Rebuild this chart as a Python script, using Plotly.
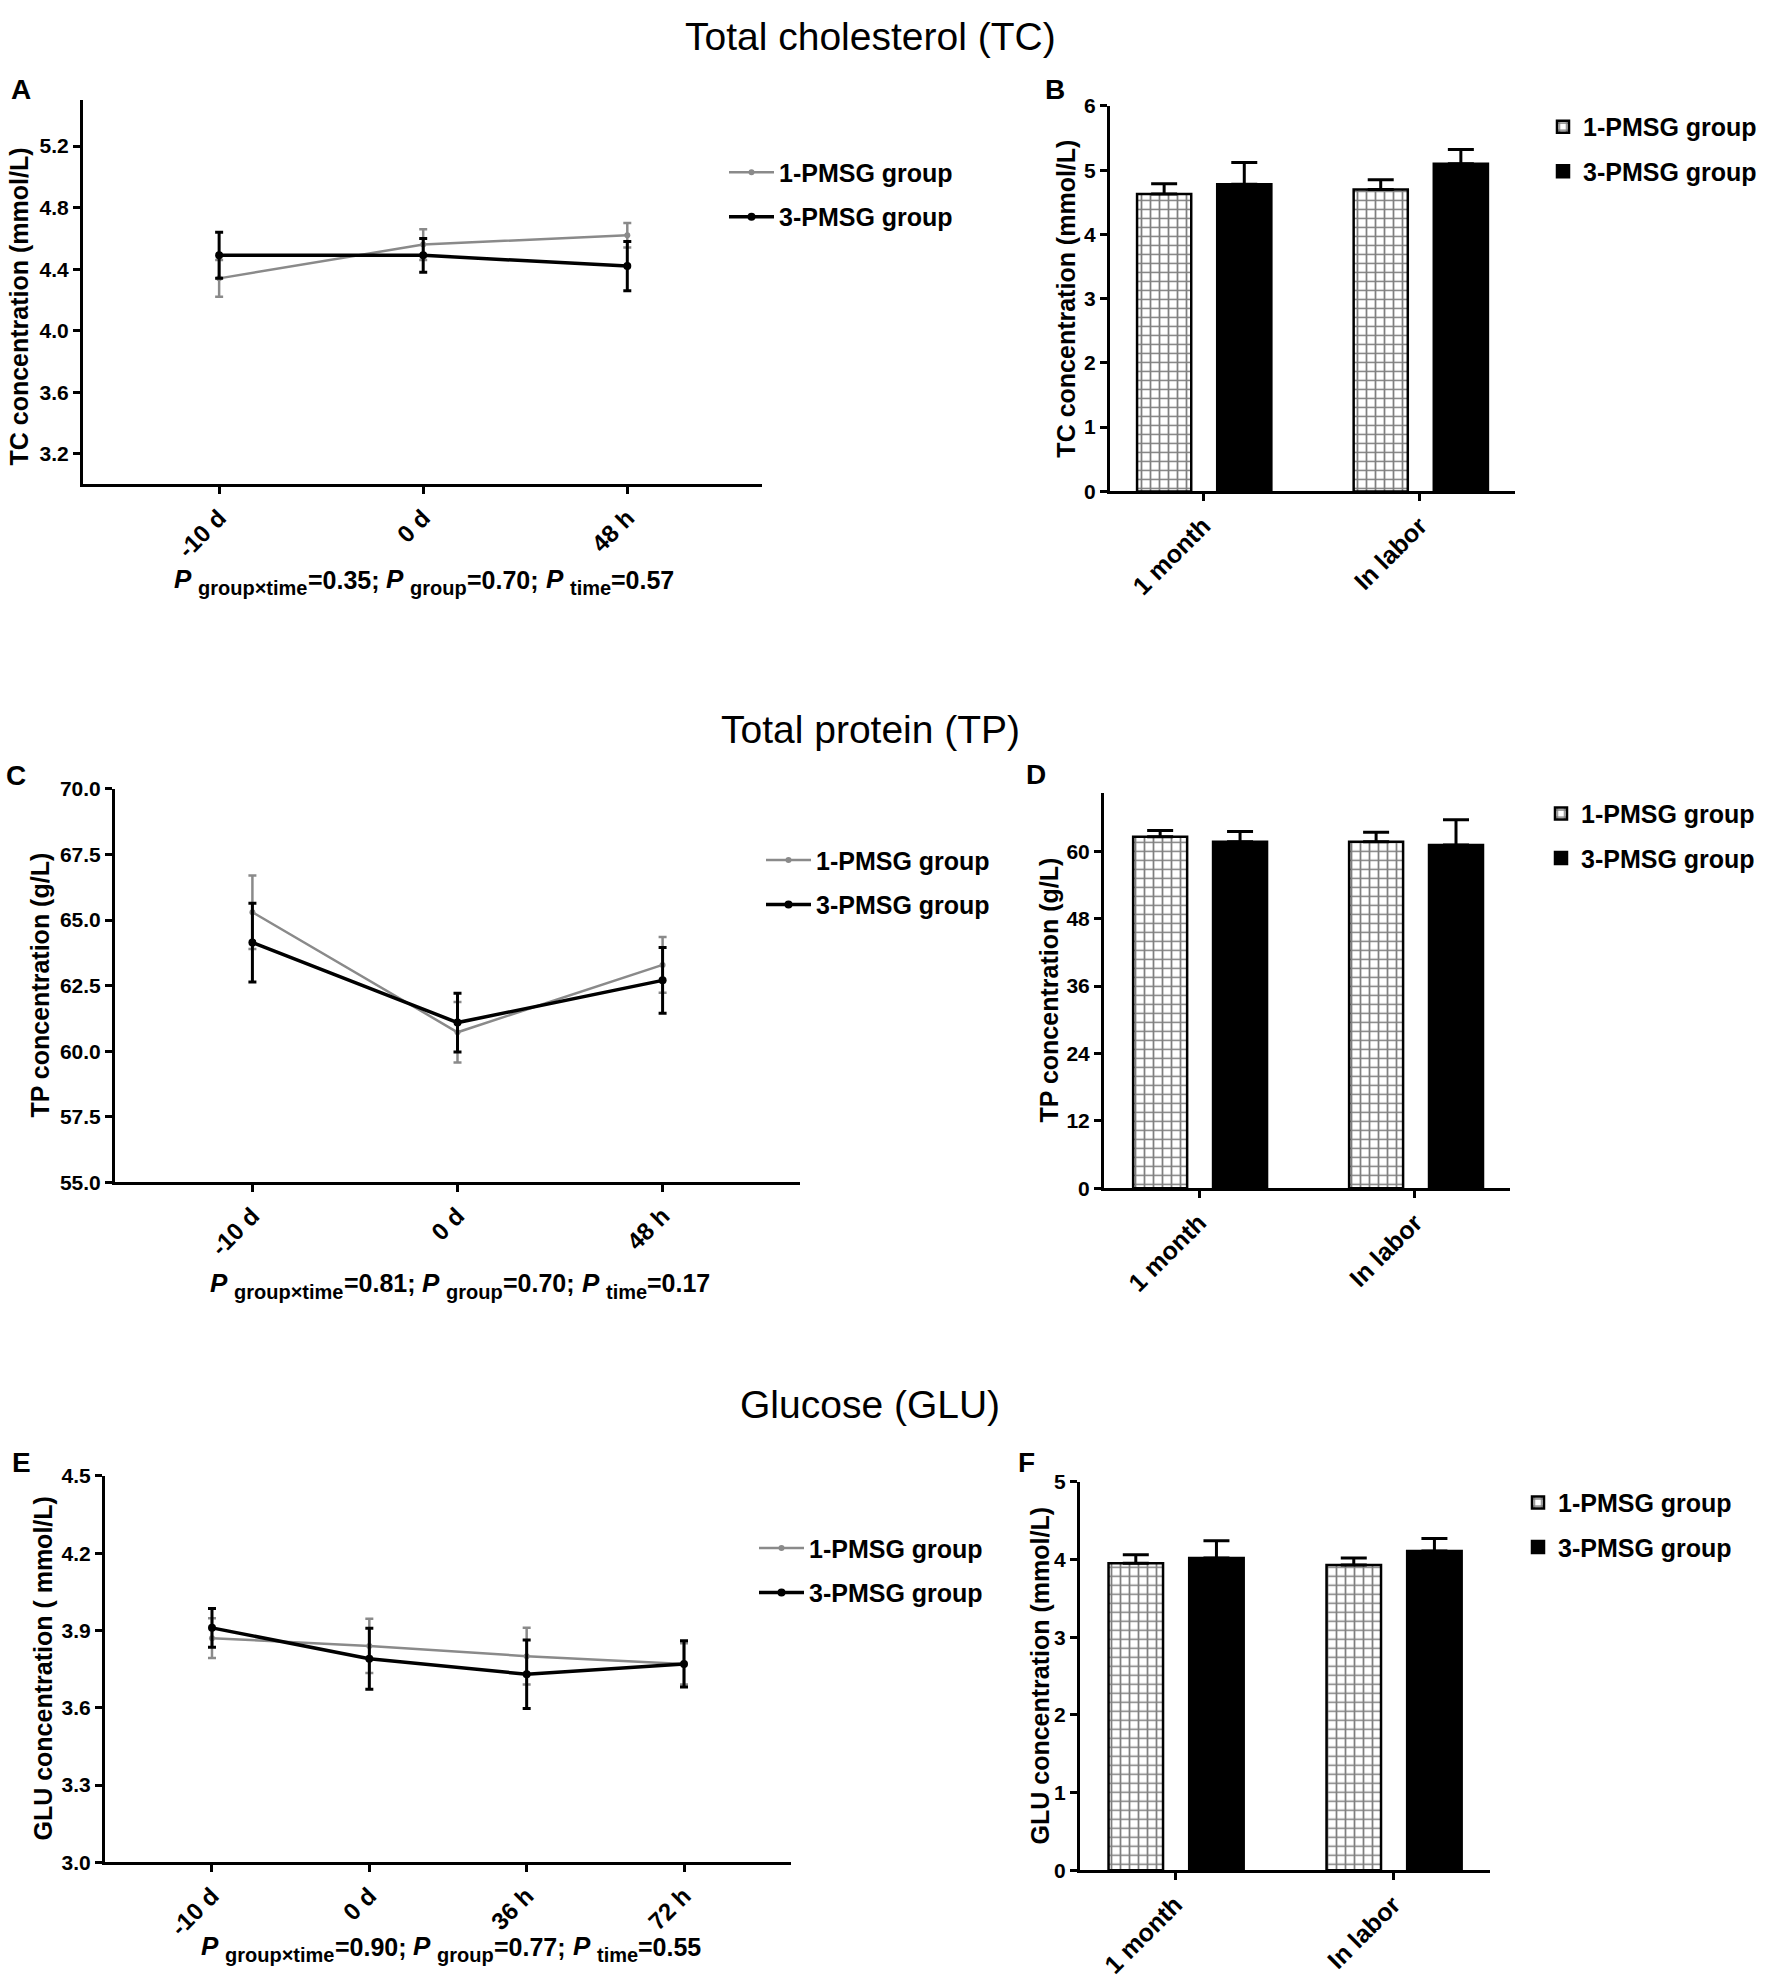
import plotly.graph_objects as go

W, H = 1780, 1984
FONT = "Liberation Sans, Arial, Helvetica, sans-serif"
GRAY = "#8a8a8a"

# ---------------- data ----------------
time_tc = ["-10 d", "0 d", "48 h"]
tc_1pmsg = [4.34, 4.56, 4.62]
tc_1pmsg_err = [0.12, 0.10, 0.08]
tc_3pmsg = [4.49, 4.49, 4.42]
tc_3pmsg_err = [0.15, 0.11, 0.16]

stages = ["1 month", "In labor"]
tc_bar_1pmsg = [4.63, 4.70]
tc_bar_1pmsg_err = [0.16, 0.15]
tc_bar_3pmsg = [4.78, 5.10]
tc_bar_3pmsg_err = [0.34, 0.22]

time_tp = ["-10 d", "0 d", "48 h"]
tp_1pmsg = [65.30, 60.72, 63.29]
tp_1pmsg_err = [1.40, 1.15, 1.06]
tp_3pmsg = [64.14, 61.09, 62.70]
tp_3pmsg_err = [1.50, 1.12, 1.25]

tp_bar_1pmsg = [62.6, 61.7]
tp_bar_1pmsg_err = [1.1, 1.7]
tp_bar_3pmsg = [61.7, 61.1]
tp_bar_3pmsg_err = [1.8, 4.5]

time_glu = ["-10 d", "0 d", "36 h", "72 h"]
glu_1pmsg = [3.87, 3.84, 3.80, 3.77]
glu_1pmsg_err = [0.077, 0.105, 0.11, 0.08]
glu_3pmsg = [3.91, 3.79, 3.73, 3.77]
glu_3pmsg_err = [0.075, 0.118, 0.133, 0.09]

glu_bar_1pmsg = [3.95, 3.93]
glu_bar_1pmsg_err = [0.11, 0.09]
glu_bar_3pmsg = [4.02, 4.11]
glu_bar_3pmsg_err = [0.22, 0.16]

group_names = ["1-PMSG group", "3-PMSG group"]

p_tc = ["0.35", "0.70", "0.57"]
p_tp = ["0.81", "0.70", "0.17"]
p_glu = ["0.90", "0.77", "0.55"]

# ---------------- helpers ----------------
def px_x(p):
    return p / W

def px_y(p):
    return 1 - p / H

fig = go.Figure()
layout = {}


def add_axes(n, xbox, ybox, xrange, yrange, dtick, tickfmt, tick0=None, xfont=24):
    xs = "xaxis" if n == 1 else f"xaxis{n}"
    ys = "yaxis" if n == 1 else f"yaxis{n}"
    common = dict(
        showline=True, linecolor="black", linewidth=3,
        ticks="outside", ticklen=7, tickwidth=3, tickcolor="black",
        showgrid=False, zeroline=False,
    )
    layout[xs] = dict(common, domain=[px_x(xbox[0]), px_x(xbox[1])],
                      anchor=f"y{'' if n == 1 else n}", type="category",
                      range=xrange, tickangle=-45,
                      tickfont=dict(family=FONT, size=xfont, color="black", weight="bold"))
    ydict = dict(common, domain=[px_y(ybox[1]), px_y(ybox[0])],
                 anchor=f"x{'' if n == 1 else n}", range=yrange,
                 tickmode="linear", dtick=dtick, tickformat=tickfmt,
                 tickfont=dict(family=FONT, size=21, color="black", weight="bold"))
    if tick0 is not None:
        ydict["tick0"] = tick0
    layout[ys] = ydict


def add_lines(n, cats, v1, e1, v3, e3, legend):
    xa = "x" if n == 1 else f"x{n}"
    ya = "y" if n == 1 else f"y{n}"
    fig.add_trace(go.Scatter(
        x=cats, y=v1, mode="lines+markers", name=group_names[0],
        xaxis=xa, yaxis=ya, legend=legend, legendgroup=f"{legend}a",
        line=dict(color=GRAY, width=2.5),
        marker=dict(color=GRAY, size=6),
        error_y=dict(type="data", array=e1, color=GRAY, thickness=2.5, width=4),
    ))
    fig.add_trace(go.Scatter(
        x=cats, y=v3, mode="lines+markers", name=group_names[1],
        xaxis=xa, yaxis=ya, legend=legend, legendgroup=f"{legend}b",
        line=dict(color="black", width=3.5),
        marker=dict(color="black", size=8),
        error_y=dict(type="data", array=e3, color="black", thickness=3, width=4),
    ))


def add_bars(n, cats, v1, e1, v3, e3, legend):
    xa = "x" if n == 1 else f"x{n}"
    ya = "y" if n == 1 else f"y{n}"
    fig.add_trace(go.Bar(
        x=cats, y=v1, name=group_names[0], xaxis=xa, yaxis=ya,
        legend=legend, legendgroup=f"{legend}a",
        width=0.25, offset=-0.305,
        marker=dict(color="white", line=dict(color="black", width=2.5),
                    pattern=dict(shape="+", size=9, solidity=0.35,
                                 fgcolor="black", bgcolor="white",
                                 fillmode="overlay")),
        error_y=dict(type="data", symmetric=False, array=e1,
                     arrayminus=[0] * len(e1), color="black", thickness=3, width=13),
    ))
    fig.add_trace(go.Bar(
        x=cats, y=v3, name=group_names[1], xaxis=xa, yaxis=ya,
        legend=legend, legendgroup=f"{legend}b",
        width=0.25, offset=0.065,
        marker=dict(color="black", line=dict(color="black", width=2.5)),
        error_y=dict(type="data", symmetric=False, array=e3,
                     arrayminus=[0] * len(e3), color="black", thickness=3, width=13),
    ))


# panel A / B
add_axes(1, (83, 762), (89, 478), [-0.667, 2.66], [3.0, 5.5], 0.4, ".1f", tick0=3.2)
add_lines(1, time_tc, tc_1pmsg, tc_1pmsg_err, tc_3pmsg, tc_3pmsg_err, "legend")
add_axes(2, (1110, 1515), (95, 485), [-0.43, 1.44], [0, 6], 1, "d", xfont=25)
add_bars(2, stages, tc_bar_1pmsg, tc_bar_1pmsg_err, tc_bar_3pmsg, tc_bar_3pmsg_err, "legend2")

# panel C / D
add_axes(3, (115, 800), (786, 1184), [-0.67, 2.67], [55, 70.001], 2.5, ".1f")
add_lines(3, time_tp, tp_1pmsg, tp_1pmsg_err, tp_3pmsg, tp_3pmsg_err, "legend3")
add_axes(4, (1104, 1510), (790, 1190), [-0.44, 1.44], [0, 70.4], 12, "d", xfont=25)
add_bars(4, stages, tp_bar_1pmsg, tp_bar_1pmsg_err, tp_bar_3pmsg, tp_bar_3pmsg_err, "legend4")

# panel E / F
add_axes(5, (105, 791), (1481, 1872), [-0.68, 3.68], [3.0, 4.5001], 0.3, ".1f")
add_lines(5, time_glu, glu_1pmsg, glu_1pmsg_err, glu_3pmsg, glu_3pmsg_err, "legend5")
add_axes(6, (1080, 1490), (1487, 1880), [-0.436, 1.445], [0, 5.0001], 1, "d", xfont=25)
add_bars(6, stages, glu_bar_1pmsg, glu_bar_1pmsg_err, glu_bar_3pmsg, glu_bar_3pmsg_err, "legend6")

# legends
def legend_cfg(left, top, itemwidth):
    return dict(x=px_x(left), y=px_y(top), xanchor="left", yanchor="top",
                bgcolor="rgba(0,0,0,0)", borderwidth=0,
                font=dict(family=FONT, size=25, color="black", weight="bold"),
                traceorder="grouped", tracegroupgap=9, itemwidth=itemwidth)

layout["legend"] = legend_cfg(724, 139, 45)
layout["legend2"] = legend_cfg(1543, 93, 30)
layout["legend3"] = legend_cfg(761, 835, 45)
layout["legend4"] = legend_cfg(1541, 788, 30)
layout["legend5"] = legend_cfg(754, 1531, 45)
layout["legend6"] = legend_cfg(1518, 1485, 30)

# annotations
anns = []

def ann(text, x, y, size, bold=False, angle=0, italic=False, xanchor="center"):
    anns.append(dict(
        text=text, x=px_x(x), y=px_y(y), xref="paper", yref="paper",
        showarrow=False, xanchor=xanchor, yanchor="middle", textangle=angle,
        borderpad=0,
        font=dict(family=FONT, size=size, color="black",
                  weight="bold" if bold else "normal",
                  style="italic" if italic else "normal"),
    ))

ann("Total cholesterol (TC)", 870, 25, 39)
ann("Total protein (TP)", 870, 726, 39)
ann("Glucose (GLU)", 870, 1409, 39)

for letter, x, y in [("A", 21, 78), ("B", 1055, 78), ("C", 16, 772),
                     ("D", 1036, 771), ("E", 21, 1468), ("F", 1026, 1468)]:
    ann(letter, x, y, 28, bold=True)

ann("TC concentration (mmol/L)", 19, 298, 25, bold=True, angle=-90)
ann("TC concentration (mmol/L)", 1066, 290, 25, bold=True, angle=-90)
ann("TP concentration (g/L)", 40, 985, 25, bold=True, angle=-90)
ann("TP concentration (g/L)", 1049, 990, 25, bold=True, angle=-90)
ann("GLU concentration ( mmol/L)", 43, 1676, 25, bold=True, angle=-90)
ann("GLU concentration (mmol/L)", 1040, 1683, 25, bold=True, angle=-90)

# Arial/Liberation Sans Bold advance widths (per 1000 em) for P-value lines
AW = {"P": 667, " ": 278, "g": 611, "r": 389, "o": 611, "u": 611, "p": 611,
      "×": 584, "t": 333, "i": 278, "m": 889, "e": 556, "=": 584, ".": 278,
      ";": 333}
for d in "0123456789":
    AW[d] = 556

def text_w(s, size):
    return sum(AW[c] for c in s) * size / 1000.0

MAIN, SUB, PSZ, SUBDROP = 25, 20, 26, 7

def p_line(vals, cx, baseline):
    segs = []
    subs = ["group×time", "group", "time"]
    for k, (sub, v) in enumerate(zip(subs, vals)):
        segs.append(("P", PSZ, True, 0, text_w(" ", MAIN)))
        tail = f"={v};" if k < 2 else f"={v}"
        segs.append((sub, SUB, False, SUBDROP, 0))
        segs.append((tail, MAIN, False, 0, text_w(" ", MAIN) if k < 2 else 0))
    total = sum(text_w(s, sz) + gap for s, sz, _, _, gap in segs)
    x = cx - total / 2
    for s, sz, it, drop, gap in segs:
        ann(s, x, baseline + drop - 0.3465 * sz, sz, bold=True, italic=it,
            xanchor="left")
        x += text_w(s, sz) + gap

p_line(p_tc, 423, 583)
p_line(p_tp, 459, 1295)
p_line(p_glu, 450, 1966)

fig.update_layout(
    width=W, height=H, autosize=False,
    margin=dict(l=0, r=0, t=0, b=0),
    paper_bgcolor="white", plot_bgcolor="white",
    barmode="overlay", annotations=anns,
    font=dict(family=FONT, color="black"),
    **layout,
)

fig.write_html("out.html", config={"displayModeBar": False},
               post_script="document.body.style.margin='0';")
